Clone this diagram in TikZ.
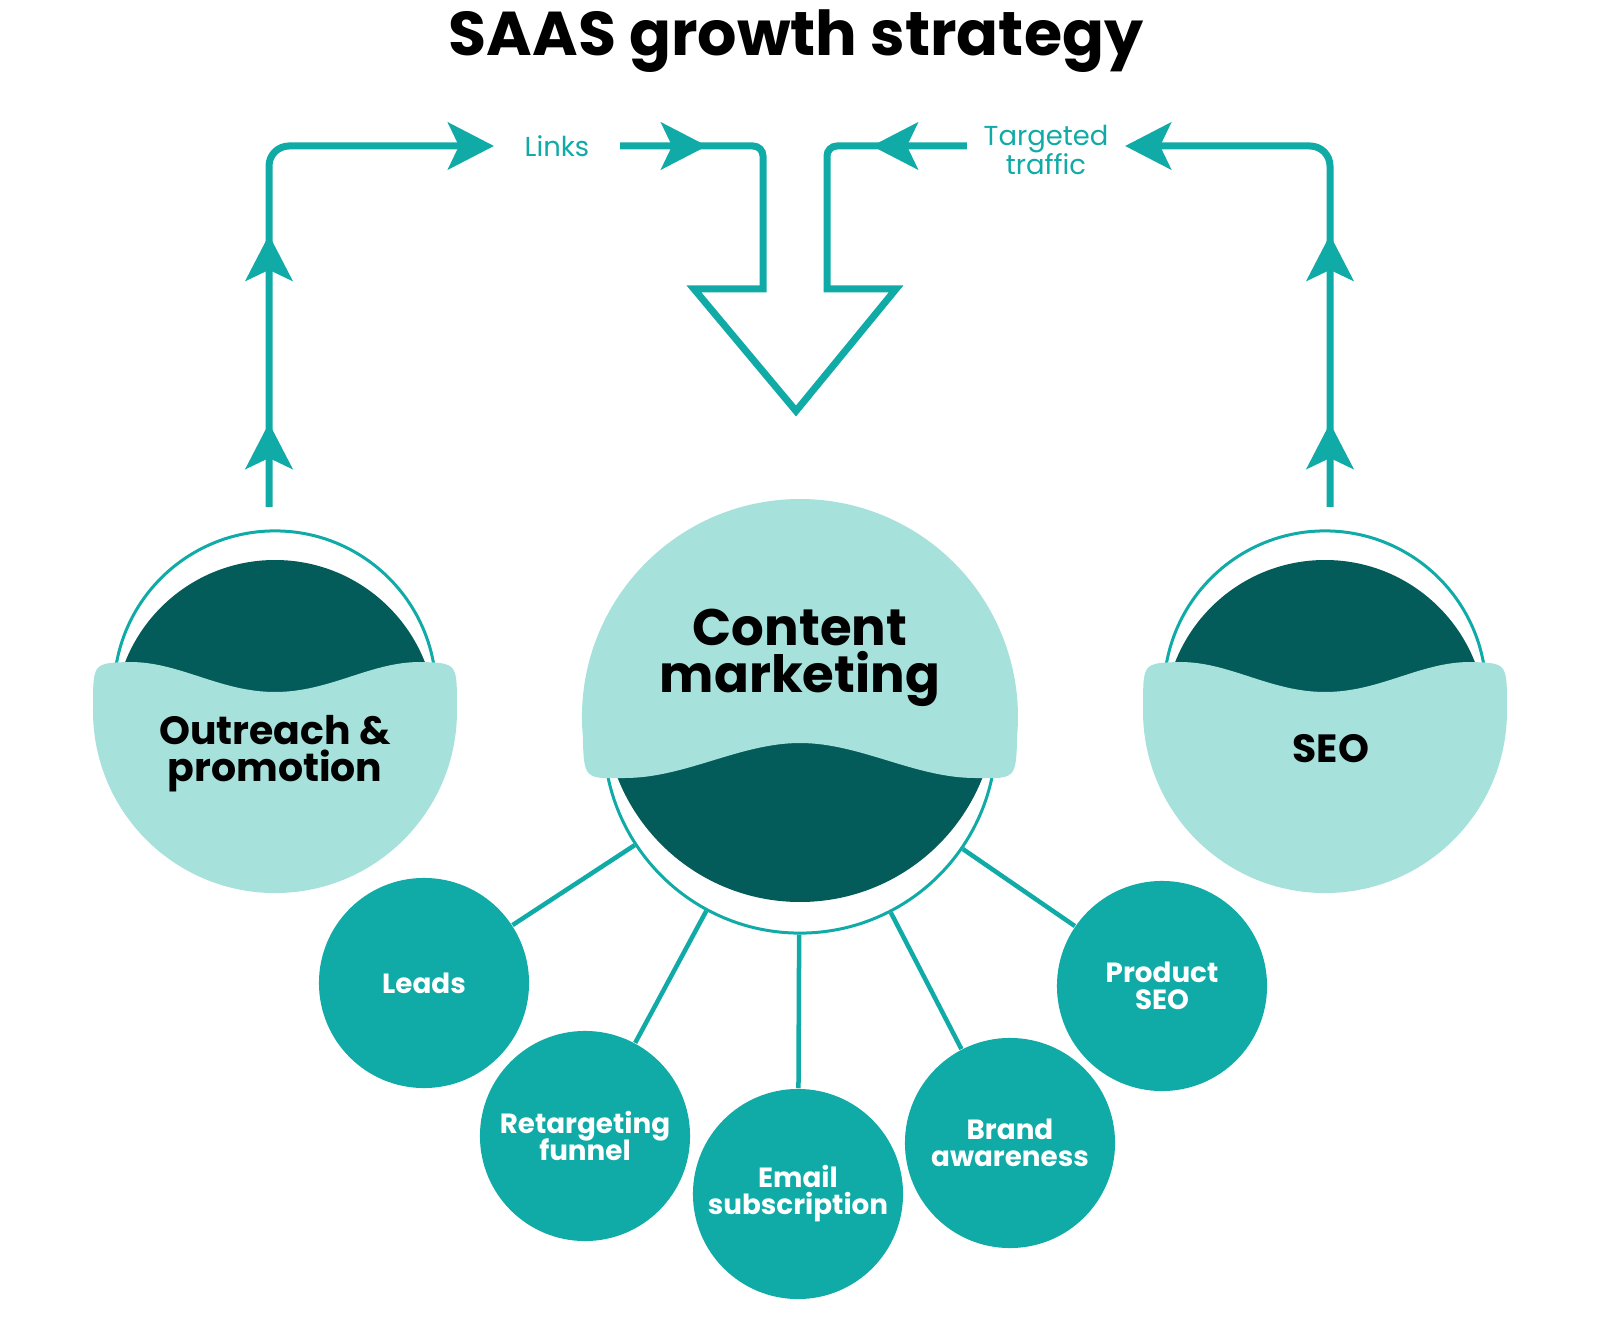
\documentclass[tikz,border=0pt]{standalone}
\usepackage{fontspec}
\setmainfont{Poppins}
\usetikzlibrary{arrows.meta, decorations.markings, positioning}
\definecolor{brandteal}{HTML}{10ABA7}
\definecolor{deep}{HTML}{035C59}
\definecolor{pale}{HTML}{A6E1DB}

\begin{document}
\begin{tikzpicture}[
  x=0.01cm, y=-0.01cm,
  >={Stealth[length=0.46cm, width=0.47cm, inset=0.11cm]},
  flow/.style={color=brandteal, line width=0.07cm},
  upmarks/.style={postaction={decorate, decoration={markings,
      mark=at position 0.84cm with {\arrow{>}},
      mark=at position 2.72cm with {\arrow{>}}}}},
  midmarks/.style={postaction={decorate, decoration={markings,
      mark=at position 0.87cm with {\arrow{>}},
      mark=at position -0.95cm with {\arrowreversed{>}}}}},
  ring/.style={circle, draw=brandteal, line width=0.03cm, inner sep=0pt},
  hubtext/.style={align=center, text=black, font={\fontsize{14.6}{13.2}\selectfont\bfseries\lineskiplimit=-10pt}},
  sidetext/.style={align=center, text=black, font={\fontsize{11.2}{10.5}\selectfont\bfseries\lineskiplimit=-10pt}},
  topic/.style={circle, fill=brandteal, minimum size=2.1cm, inner sep=0pt, text=white, align=center, font={\fontsize{7.9}{7.7}\selectfont\bfseries\lineskiplimit=-10pt}},
  spoke/.style={draw=brandteal, line width=0.045cm},
  tag/.style={text=brandteal, align=center, font={\fontsize{7.8}{8}\selectfont\lineskiplimit=-10pt}}
]
\useasboundingbox (0,0) rectangle (1600,1331);

\node[anchor=base, font=\fontsize{17.6}{20}\selectfont\bfseries] (title) at (796,56) {SAAS growth strategy};

\node[ring, minimum size=3.22cm] (ringL) at (275,692) {};
\node[ring, minimum size=3.22cm] (ringR) at (1325,692) {};
\node[ring, minimum size=3.92cm] (ringC) at (800,737) {};

\foreach \cx in {275,1325} {
  \begin{scope}[shift={(\cx,711)}]
    \fill[deep] (0,10) circle[radius=161];
    \fill[pale] (-181.9,-5) .. controls (-182,-48) .. (-145,-49)
      .. controls (-95,-49) and (-55,-19) .. (0,-19)
      .. controls (55,-19) and (95,-49) .. (145,-49)
      .. controls (182,-48) .. (181.9,-5)
      arc[start angle=-1.6, end angle=181.6, radius=182] -- cycle;
  \end{scope}
}

\fill[deep] (800,706) circle[radius=196];
\fill[pale] (582.8,736) arc[start angle=175, end angle=365, radius=218]
  .. controls (1016,779) .. (975,778)
  .. controls (915,778) and (860,743) .. (800,743)
  .. controls (740,743) and (685,778) .. (625,778)
  .. controls (584,779) .. (582.8,736) -- cycle;

\node[hubtext] (content) at (800,658) {Content\\marketing};
\node[sidetext] (outreach) at (275,754) {Outreach \&\\promotion};
\node[sidetext] (seo) at (1331,749) {SEO};

\node[topic] (leads)   at (424,983)  {Leads};
\node[topic] (funnel)  at (585,1136) {Retargeting\\funnel};
\node[topic] (email)   at (798,1194) {Email\\subscription};
\node[topic] (brand)   at (1010,1143) {Brand\\awareness};
\node[topic] (product) at (1162,986) {Product\\SEO};

\foreach \t in {leads,funnel,email,brand,product}
  \draw[spoke] (ringC) -- (\t);

\node[tag, inner xsep=0.3cm] (links) at (557,146) {Links};
\node[tag, inner xsep=0.16cm] (traffic) at (1046,150) {Targeted\\traffic};

\coordinate (footL) at (269,507);
\coordinate (cornerL) at (269,146);
\coordinate (footR) at (1330,507);
\coordinate (cornerR) at (1330,146);

\draw[flow, ->, rounded corners=0.2cm, upmarks] (footL) -- (cornerL) -- (links.west);
\draw[flow, ->, rounded corners=0.2cm, upmarks] (footR) -- (cornerR) -- (traffic.east |- cornerR);
\draw[flow, line join=miter, midmarks] (links.east) [rounded corners=0.1cm] -- (763,146) -- (763,220)
  [sharp corners] -- (763,289) -- (694,289) -- (796,411) -- (896,289) -- (827,289) -- (827,220)
  [rounded corners=0.1cm] -- (827,146) -- (traffic.west |- cornerR);
\end{tikzpicture}
\end{document}
